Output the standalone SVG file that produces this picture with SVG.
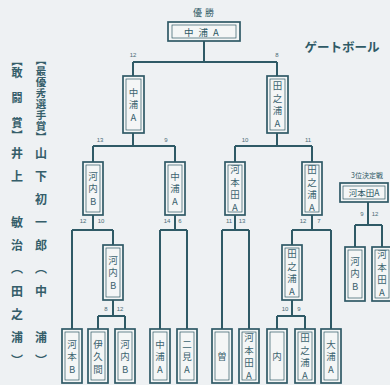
<svg xmlns="http://www.w3.org/2000/svg" width="390" height="385" viewBox="0 0 390 385">
<style>
.bo{fill:#f4f6f6;stroke:#2f5a66;stroke-width:1.7}
.bi{fill:none;stroke:#2f5a66;stroke-width:0.7}
.ln{fill:none;stroke:#2f5a66;stroke-width:2}
.vt{font-family:"Noto Sans CJK JP",sans-serif;font-size:9.5px;fill:#3d6470;writing-mode:vertical-rl;text-orientation:upright;text-anchor:middle;letter-spacing:3px}
.ht{font-family:"Noto Sans CJK JP",sans-serif;fill:#2f5a66;text-anchor:middle}
.sc{font-family:"Liberation Sans",sans-serif;font-size:6px;fill:#4a6b75;text-anchor:middle}
.cap{font-family:"Noto Sans CJK JP",sans-serif;fill:#355e6a;writing-mode:vertical-rl;font-weight:bold}
</style>
<rect width="390" height="385" fill="#eef1f3"/>

<g id="awards">
<text class="cap" x="41" y="55" font-size="10.5" letter-spacing="0.4">【最優秀選手賞】</text>
<text class="cap" x="41" y="147" font-size="12" letter-spacing="11">山下初一郎（中　浦）</text>
<text class="cap" x="17" y="55" font-size="11" letter-spacing="1.5">【敢　闘　賞】</text>
<text class="cap" x="17" y="147" font-size="12" letter-spacing="11">井上　敏治（田之浦）</text>
</g>

<g id="title"><text class="ht" x="342" y="52" font-size="12.5" font-weight="bold">ゲートボール</text></g>

<g id="connectors">
<path class="ln" d="M204 41V62M133 62H277M133 62V76M277 62V76"/>
<path class="ln" d="M133 133V146M93 146H175M93 146V162M175 146V162"/>
<path class="ln" d="M277 133V146M235 146H312M235 146V162M312 146V162"/>
<path class="ln" d="M93 215V230M72 230H113M72 230V329M113 230V245"/>
<path class="ln" d="M175 215V230M160 230H187M160 230V329M187 230V329"/>
<path class="ln" d="M235 215V230M222 230H249M222 230V329M249 230V329"/>
<path class="ln" d="M312 215V230M292 230H331M292 230V245M331 230V329"/>
<path class="ln" d="M113 300V316M98 316H125M98 316V329M125 316V329"/>
<path class="ln" d="M292 300V316M277 316H305M277 316V329M305 316V329"/>
<path class="ln" d="M368 202V225M355 225H382M355 225V247M382 225V247"/>
</g>

<g id="scores">
<text class="sc" x="133" y="57">12</text><text class="sc" x="277" y="57">8</text>
<text class="sc" x="100" y="142">13</text><text class="sc" x="166" y="142">9</text>
<text class="sc" x="245" y="142">10</text><text class="sc" x="308" y="142">11</text>
<text class="sc" x="83" y="223">12</text><text class="sc" x="101" y="223">10</text>
<text class="sc" x="167" y="223">14</text><text class="sc" x="180" y="223">6</text>
<text class="sc" x="229" y="223">11</text><text class="sc" x="242" y="223">13</text>
<text class="sc" x="303" y="223">12</text><text class="sc" x="319" y="223">7</text>
<text class="sc" x="106" y="311">8</text><text class="sc" x="120" y="311">12</text>
<text class="sc" x="285" y="311">10</text><text class="sc" x="299" y="311">9</text>
<text class="sc" x="362" y="216">9</text><text class="sc" x="375" y="216">12</text>
</g>

<g id="final">
<text class="ht" x="205" y="16" font-size="9" letter-spacing="3">優勝</text>
<rect class="bo" x="168" y="22" width="72" height="19"/><rect class="bi" x="172" y="25" width="64" height="13"/>
<text class="ht" x="204" y="35.5" font-size="9.5" letter-spacing="5">中浦A</text>
</g>

<g id="sf1"><rect class="bo" x="123" y="76" width="21" height="57"/><rect class="bi" x="126" y="79" width="15" height="51"/><text class="vt" x="133.5" y="106">中浦A</text></g>
<g id="sf2"><rect class="bo" x="267" y="76" width="21" height="57"/><rect class="bi" x="270" y="79" width="15" height="51"/><text class="vt" x="277.5" y="106" letter-spacing="1">田之浦A</text></g>

<g id="q1"><rect class="bo" x="83" y="162" width="20" height="53"/><rect class="bi" x="86" y="165" width="14" height="47"/><text class="vt" x="93" y="190">河内B</text></g>
<g id="q2"><rect class="bo" x="165" y="162" width="20" height="53"/><rect class="bi" x="168" y="165" width="14" height="47"/><text class="vt" x="175" y="190">中浦A</text></g>
<g id="q3"><rect class="bo" x="225" y="162" width="20" height="53"/><rect class="bi" x="228" y="165" width="14" height="47"/><text class="vt" x="235" y="190" letter-spacing="1">河本田A</text></g>
<g id="q4"><rect class="bo" x="302" y="162" width="20" height="53"/><rect class="bi" x="305" y="165" width="14" height="47"/><text class="vt" x="312" y="190" letter-spacing="1">田之浦A</text></g>

<g id="r1"><rect class="bo" x="103" y="245" width="20" height="55"/><rect class="bi" x="106" y="248" width="14" height="49"/><text class="vt" x="113" y="274">河内B</text></g>
<g id="r2"><rect class="bo" x="282" y="245" width="20" height="55"/><rect class="bi" x="285" y="248" width="14" height="49"/><text class="vt" x="292" y="274" letter-spacing="1">田之浦A</text></g>

<g id="t1"><rect class="bo" x="62" y="329" width="20" height="54"/><rect class="bi" x="65" y="332" width="14" height="48"/><text class="vt" x="72" y="358">河本B</text></g>
<g id="t2"><rect class="bo" x="88" y="329" width="20" height="54"/><rect class="bi" x="91" y="332" width="14" height="48"/><text class="vt" x="98" y="358">伊久間</text></g>
<g id="t3"><rect class="bo" x="115" y="329" width="20" height="54"/><rect class="bi" x="118" y="332" width="14" height="48"/><text class="vt" x="125" y="358">河内B</text></g>
<g id="t4"><rect class="bo" x="150" y="329" width="20" height="54"/><rect class="bi" x="153" y="332" width="14" height="48"/><text class="vt" x="160" y="358">中浦A</text></g>
<g id="t5"><rect class="bo" x="177" y="329" width="20" height="54"/><rect class="bi" x="180" y="332" width="14" height="48"/><text class="vt" x="187" y="358">二見A</text></g>
<g id="t6"><rect class="bo" x="212" y="329" width="20" height="54"/><rect class="bi" x="215" y="332" width="14" height="48"/><text class="vt" x="222" y="358">曽</text></g>
<g id="t7"><rect class="bo" x="239" y="329" width="20" height="54"/><rect class="bi" x="242" y="332" width="14" height="48"/><text class="vt" x="249" y="358" letter-spacing="1">河本田A</text></g>
<g id="t8"><rect class="bo" x="267" y="329" width="20" height="54"/><rect class="bi" x="270" y="332" width="14" height="48"/><text class="vt" x="277" y="358">内</text></g>
<g id="t9"><rect class="bo" x="295" y="329" width="20" height="54"/><rect class="bi" x="298" y="332" width="14" height="48"/><text class="vt" x="305" y="358" letter-spacing="1">田之浦A</text></g>
<g id="t10"><rect class="bo" x="321" y="329" width="20" height="54"/><rect class="bi" x="324" y="332" width="14" height="48"/><text class="vt" x="331" y="358">大浦A</text></g>

<g id="third">
<text class="ht" x="367" y="178" font-size="7">3位決定戦</text>
<rect class="bo" x="340" y="183" width="48" height="19"/><rect class="bi" x="343" y="186" width="42" height="13"/>
<text class="ht" x="364" y="195.5" font-size="8.5">河本田A</text>
</g>
<g id="th1"><rect class="bo" x="345" y="247" width="20" height="54"/><rect class="bi" x="348" y="250" width="14" height="48"/><text class="vt" x="355" y="275">河内B</text></g>
<g id="th2"><rect class="bo" x="372" y="247" width="20" height="54"/><rect class="bi" x="375" y="250" width="14" height="48"/><text class="vt" x="382" y="275" letter-spacing="1">河本田A</text></g>
</svg>
